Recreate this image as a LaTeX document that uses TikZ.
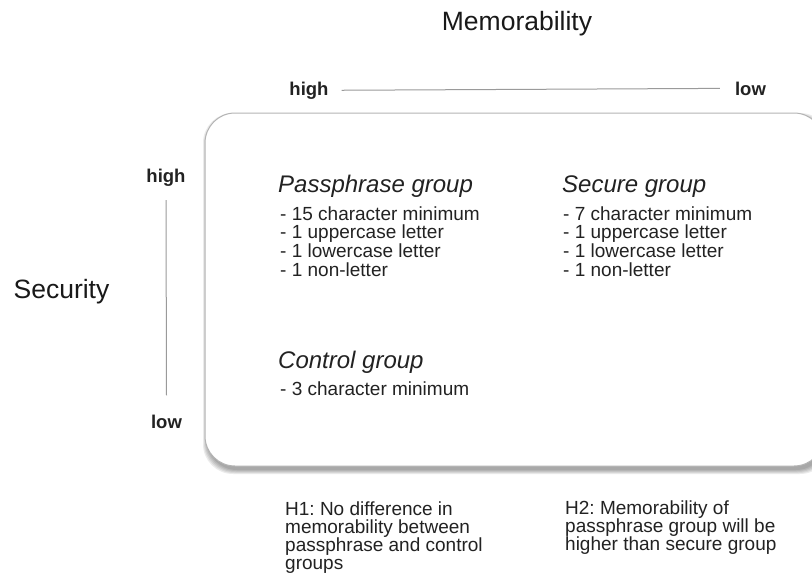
\documentclass[tikz,border=0pt]{standalone}
\usepackage{fontspec}
\setmainfont{Liberation Sans}
\frenchspacing
\definecolor{ink}{HTML}{222222}
\definecolor{rule}{HTML}{9A9A9A}
\definecolor{frame}{HTML}{B4B4B4}
\begin{document}
\begin{tikzpicture}[x=1pt,y=-1pt,
  txt/.style={inner sep=0pt, font=\fontsize{19}{19}\selectfont, text=ink, anchor=base west},
  head/.style={inner sep=0pt, font=\fontsize{24}{26}\selectfont\itshape, text=ink, anchor=base west},
  axislabel/.style={inner sep=0pt, font=\fontsize{18.5}{20}\selectfont\bfseries, text=ink, anchor=base},
  titlelabel/.style={inner sep=0pt, font=\fontsize{26.5}{28}\selectfont, text=black!90, anchor=base},
  axisline/.style={draw=rule, line width=1pt}]
\useasboundingbox (0,0) rectangle (812,574);
\clip (0,0) rectangle (812,574);
\fill[white] (0,0) rectangle (812,574);

% titles
\node[titlelabel] (memtitle) at (517,30) {Memorability};
\node[titlelabel] (sectitle) at (61.5,298) {Security};

% memorability axis
\node[axislabel] (thigh) at (309,95) {high};
\node[axislabel] (tlow) at (750.5,95) {low};
\draw[axisline] ([xshift=13pt]thigh.east) -- ([xshift=-15pt]tlow.west);

% security axis
\node[axislabel] (lhigh) at (166,182) {high};
\node[axislabel] (llow) at (166.5,428) {low};
\draw[axisline] ([yshift=-14pt]lhigh.south) -- ([yshift=19pt]llow.north);

% box shadow
\foreach \s in {0,1,2,3,4}{
  \fill[black, opacity=0.08, rounded corners=30] (207-\s,117-\s) rectangle (826+\s,470+\s);
}
\fill[white, rounded corners=30] (205,113) rectangle (824,466);
\draw[frame, line width=1pt, rounded corners=30] (205,113) rectangle (824,466);

% passphrase group
\node[head] (pphead) at (278,192) {Passphrase group};
\node[txt] (pp1) at (280,220) {- 15 character minimum};
\node[txt] (pp2) at (280,238.7) {- 1 uppercase letter};
\node[txt] (pp3) at (280,257.4) {- 1 lowercase letter};
\node[txt] (pp4) at (280,276.1) {- 1 non-letter};

% secure group
\node[head] (sechead) at (562,192) {Secure group};
\node[txt] (sec1) at (563,220) {- 7 character minimum};
\node[txt] (sec2) at (563,238.7) {- 1 uppercase letter};
\node[txt] (sec3) at (563,257.4) {- 1 lowercase letter};
\node[txt] (sec4) at (563,276.1) {- 1 non-letter};

% control group
\node[head] (ctrlhead) at (278,368) {Control group};
\node[txt] (ctrl1) at (280,395) {- 3 character minimum};

% hypotheses
\node[txt] (hone1) at (285,515) {H1: No difference in};
\node[txt] (hone2) at (285,533.3) {memorability between};
\node[txt] (hone3) at (285,551.6) {passphrase and control};
\node[txt] (hone4) at (285,569.9) {groups};
\node[txt] (htwo1) at (565,514) {H2: Memorability of};
\node[txt] (htwo2) at (565,532.3) {passphrase group will be};
\node[txt] (htwo3) at (565,550.6) {higher than secure group};
\end{tikzpicture}
\end{document}
